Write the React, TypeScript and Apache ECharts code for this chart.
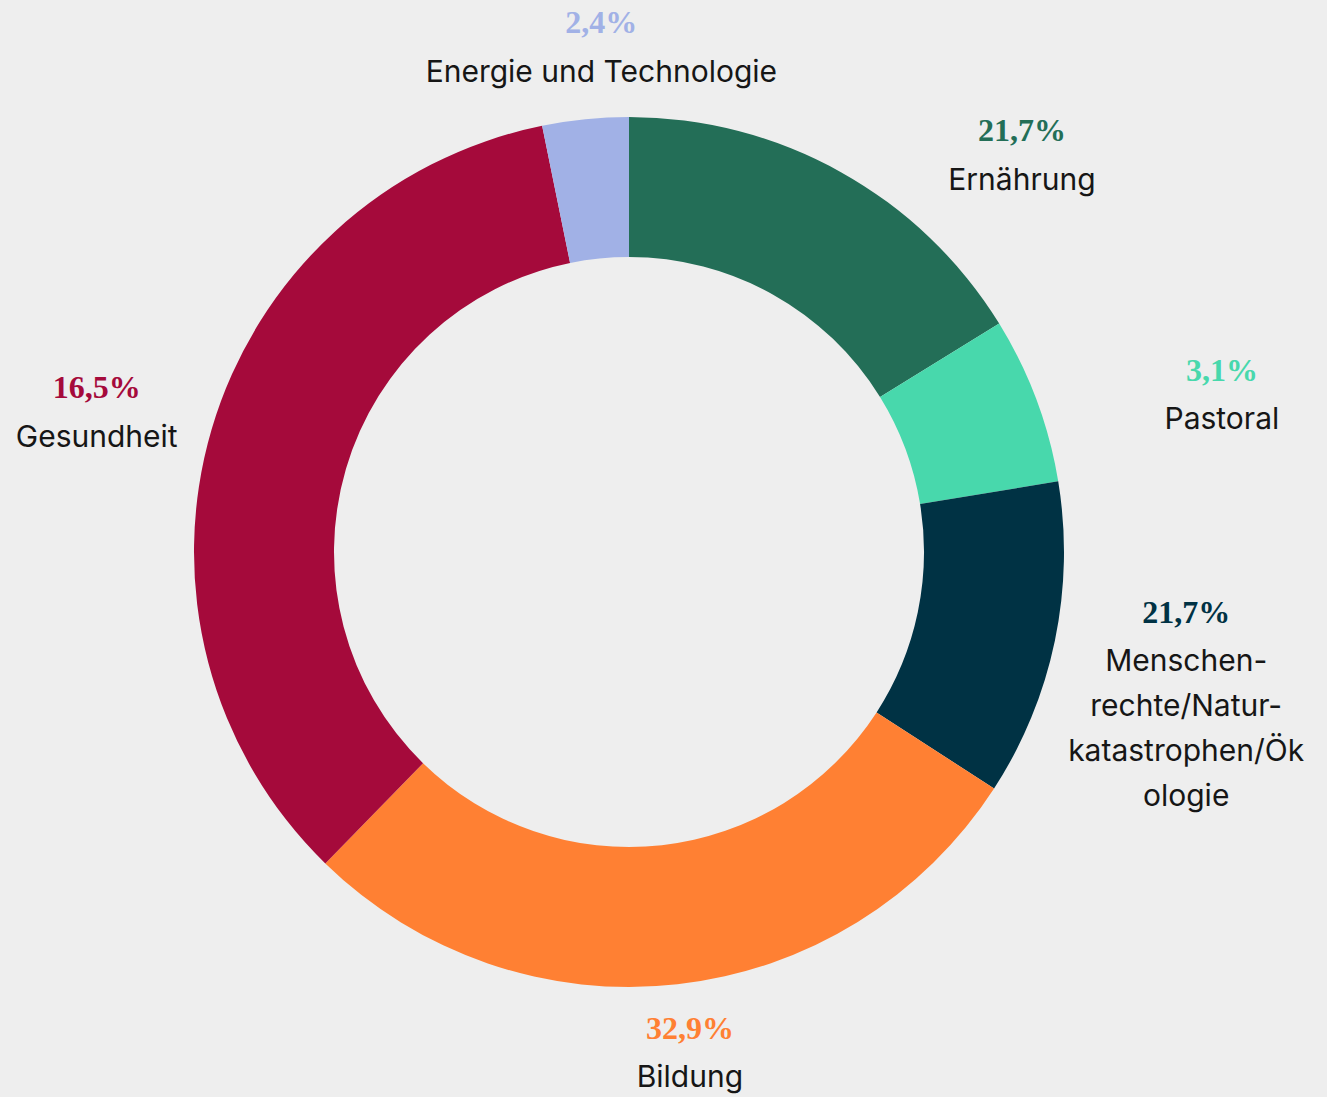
import React, { useEffect, useRef } from 'react';
import * as echarts from 'echarts';

// Data
const categories = [
  'Ernährung',
  'Pastoral',
  'Menschenrechte/Naturkatastrophen/Ökologie',
  'Bildung',
  'Gesundheit',
  'Energie und Technologie',
];
const displayNames = [
  ['Ernährung'],
  ['Pastoral'],
  ['Menschen-', 'rechte/Natur-', 'katastrophen/Ök', 'ologie'],
  ['Bildung'],
  ['Gesundheit'],
  ['Energie und Technologie'],
];
const sliceValues = [16.2, 6.2, 11.75, 28.15, 34.5, 3.2];
const percentLabels = ['21,7%', '3,1%', '21,7%', '32,9%', '16,5%', '2,4%'];

// Styles
const colors = ['#236E57', '#48D8AC', '#003244', '#FF8033', '#A50A3B', '#A1B1E6'];
const labelAngleShift = [15.4, 5.45, 3.27, -0.58, -1.4, 2.64];
const labelDistance = [560, 614, 577, 502, 551, 508];

const CX = 629;
const CY = 552;

export default function App() {
  const ref = useRef<HTMLDivElement>(null);

  useEffect(() => {
    if (!ref.current) return;
    const chart = echarts.init(ref.current, undefined, { renderer: 'svg' });
    const total = sliceValues.reduce((a, b) => a + b, 0);
    const mids: number[] = [];
    let acc = 0;
    sliceValues.forEach((v) => {
      mids.push(((acc + v / 2) / total) * 360);
      acc += v;
    });

    const rich: any = {};
    colors.forEach((c, i) => {
      rich['p' + i] = {
        fontFamily: '"Liberation Serif", serif',
        fontWeight: 'bold',
        fontSize: 32,
        color: c,
        lineHeight: 52,
        align: 'center',
      };
    });
    rich.n = {
      fontFamily: 'Inter, sans-serif',
      fontSize: 30,
      color: '#161616',
      lineHeight: 45,
      align: 'center',
    };

    chart.setOption({
      animation: false,
      backgroundColor: '#EEEEEE',
      series: [
        {
          type: 'pie',
          center: [CX, CY],
          radius: [295, 435],
          startAngle: 90,
          clockwise: true,
          avoidLabelOverlap: false,
          emphasis: { disabled: true },
          itemStyle: { borderWidth: 0 },
          labelLine: { show: false },
          label: {
            show: true,
            position: 'outside',
            align: 'center',
            formatter: (p: any) => {
              const i = p.dataIndex;
              return (
                `{p${i}|${percentLabels[i]}}\n` +
                displayNames[i].map((l) => `{n|${l}}`).join('\n')
              );
            },
            rich,
          },
          labelLayout: (params: any) => {
            const i = params.dataIndex;
            const a = ((mids[i] + labelAngleShift[i]) * Math.PI) / 180;
            const d = labelDistance[i];
            return {
              x: CX + d * Math.sin(a),
              y: CY - d * Math.cos(a),
              align: 'center',
              verticalAlign: 'middle',
            };
          },
          data: categories.map((name, i) => ({
            name,
            value: sliceValues[i],
            itemStyle: { color: colors[i] },
          })),
        },
      ],
    });
    return () => chart.dispose();
  }, []);

  return (
    <div
      ref={ref}
      style={{
        position: 'fixed',
        left: 0,
        top: 0,
        width: 1327,
        height: 1097,
        background: '#EEEEEE',
      }}
    />
  );
}
